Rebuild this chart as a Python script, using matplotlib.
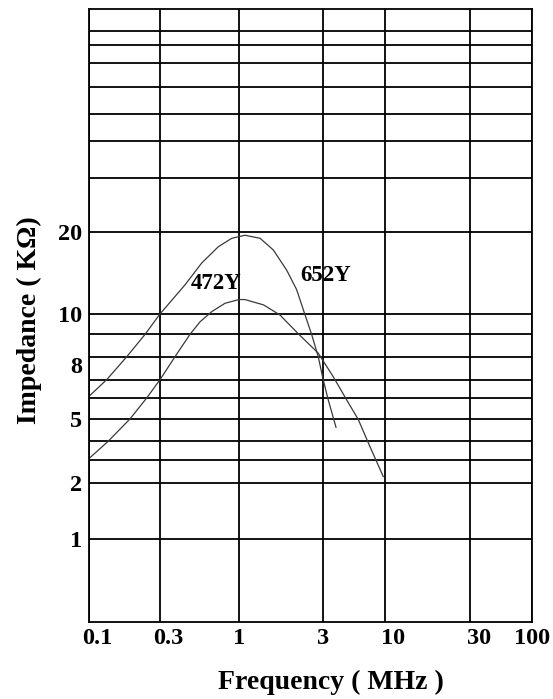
import numpy as np
import matplotlib
matplotlib.use("Agg")
import matplotlib.pyplot as plt
from matplotlib.transforms import ScaledTranslation

plt.rcParams['font.family'] = ['Liberation Serif', 'DejaVu Serif']
plt.rcParams['font.weight'] = 'bold'
plt.rcParams['axes.labelweight'] = 'bold'

# chart paper: grid values and where each line sits along the axis (0 = start, 1 = end)
x_grid = [0.1, 0.3, 1, 3, 10, 30, 100]
x_grid_pos = [0.0, 0.1597, 0.3382, 0.5272, 0.668, 0.8611, 1.0]
x_labels = ["0.1", "0.3", "1", "3", "10", "30", "100"]

y_grid = [0.5, 1, 2, 3, 4, 5, 6, 7, 8, 9, 10, 20, 30, 40, 50, 60, 70, 80, 90, 100]
y_grid_pos = [0.0, 0.1355, 0.2270, 0.2640, 0.2946, 0.3310, 0.3653, 0.3952, 0.4327,
              0.4693, 0.5025, 0.6359, 0.7240, 0.7854, 0.8285, 0.8736, 0.9118,
              0.9417, 0.9651, 1.0]
y_ticks = [1, 2, 5, 8, 10, 20]
y_labels = ["1", "2", "5", "8", "10", "20"]

# curves (MHz, kOhm)
freq_652 = [0.1, 0.131, 0.179, 0.238, 0.3, 0.439, 0.566, 0.73, 0.895, 1.08, 1.32,
            1.57, 1.87, 2.13, 2.38, 2.60, 2.83, 3.03, 3.34, 3.88]
imp_652 = [6.1, 7.0, 8.0, 9.0, 10.0, 12.8, 15.4, 17.7, 19.0, 19.5, 19.0,
           17.2, 14.5, 12.3, 9.95, 8.97, 8.0, 7.0, 5.9, 4.6]

freq_472 = [0.1, 0.134, 0.188, 0.244, 0.3, 0.377, 0.474, 0.552, 0.66, 0.808, 1.0,
            1.08, 1.38, 1.71, 2.18, 2.83, 3.68, 4.77, 5.97, 7.48, 9.67]
imp_472 = [3.08, 4.0, 5.0, 6.0, 7.0, 8.0, 9.0, 9.6, 10.2, 10.95, 11.3,
           11.3, 10.8, 9.95, 9.02, 8.15, 7.12, 5.9, 4.97, 3.68, 2.23]


def paper_scale(grid, pos):
    lg = np.log10(grid)
    def fwd(v):
        v = np.clip(np.asarray(v, dtype=float), 1e-6, None)
        return np.interp(np.log10(v), lg, pos)
    def inv(p):
        return 10 ** np.interp(np.asarray(p, dtype=float), pos, lg)
    return fwd, inv


fig = plt.figure(figsize=(5.53, 6.99), dpi=100)
ax = fig.add_axes([0.1615, 0.1106, 0.8005, 0.8761])

ax.set_xscale('function', functions=paper_scale(x_grid, x_grid_pos))
ax.set_yscale('function', functions=paper_scale(y_grid, y_grid_pos))
ax.set_xlim(x_grid[0], x_grid[-1])
ax.set_ylim(y_grid[0], y_grid[-1])

ax.set_xticks(x_grid, x_labels)
ax.set_yticks(y_ticks, y_labels)
ax.set_yticks([v for v in y_grid[1:-1] if v not in y_ticks], minor=True)
ax.tick_params(which='both', length=0, labelsize=17.5)
ax.tick_params(axis='x', pad=4.5)
ax.tick_params(axis='y', pad=5)
ax.grid(which='both', color='black', linewidth=1.3)
for s in ax.spines.values():
    s.set_linewidth(1.3)
    s.set_color('black')

ax.plot(freq_652, imp_652, color='#3a3a3a', linewidth=0.9)
ax.plot(freq_472, imp_472, color='#3a3a3a', linewidth=0.9)
ax.text(0.705, 12.9, "472Y", fontsize=16.5, ha='center', va='center')
ax.text(3.17, 13.9, "652Y", fontsize=16.5, ha='center', va='center')

ax.set_xlabel("Frequency ( MHz )", fontsize=20, fontweight='bold')
ax.set_ylabel("Impedance ( KΩ)", fontsize=20, fontweight='bold')
ax.xaxis.set_label_coords(0.546, -0.078)
ax.yaxis.set_label_coords(-0.107, 0.4927)

# some labels sit a little off their lines on the original sheet
for lab in ax.get_xticklabels():
    if lab.get_text() in ("0.1", "0.3", "10", "30"):
        lab.set_transform(lab.get_transform() + ScaledTranslation(6 / 72, 0, fig.dpi_scale_trans))
for lab in ax.get_yticklabels():
    if lab.get_text() == "8":
        lab.set_transform(lab.get_transform() + ScaledTranslation(0, -6 / 72, fig.dpi_scale_trans))

fig.savefig("out.png", dpi=100)
